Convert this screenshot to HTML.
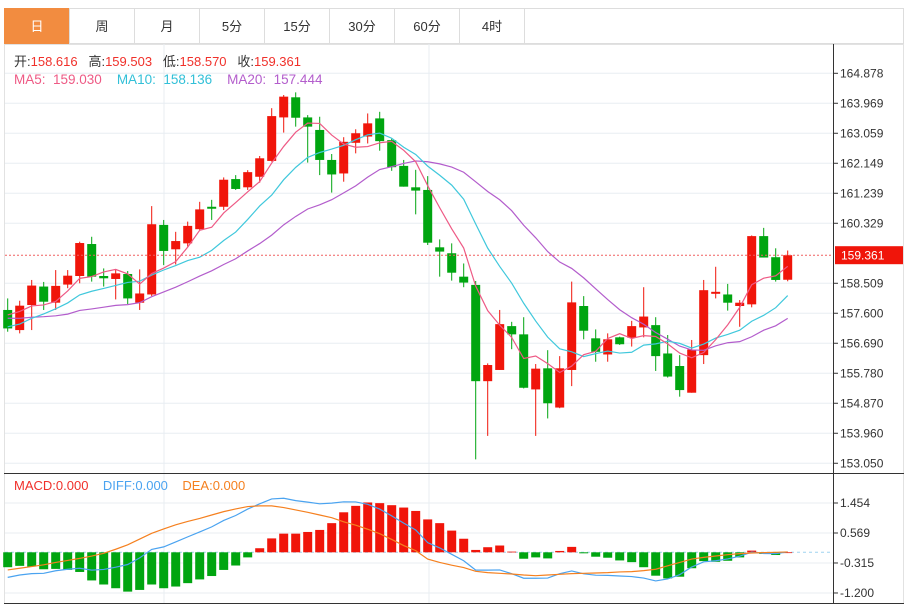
<!DOCTYPE html>
<html><head><meta charset="utf-8"><style>
body{margin:0;background:#fff;font-family:"Liberation Sans","Noto Sans CJK SC",sans-serif;}
#wrap{position:relative;width:911px;height:605px;overflow:hidden;}
.tab{position:absolute;top:8px;height:36px;line-height:36px;text-align:center;font-size:13px;color:#333;border:1px solid #ddd;box-sizing:border-box;background:#fff;}
.tab.on{background:#f28c40;color:#fff;border-color:#f28c40;}
svg{position:absolute;left:0;top:0;}
</style></head><body>
<div id="wrap">
<div class="tab on" style="left:4px;width:66px">日</div>
<div class="tab" style="left:69px;width:66px">周</div>
<div class="tab" style="left:134px;width:66px">月</div>
<div class="tab" style="left:199px;width:66px">5分</div>
<div class="tab" style="left:264px;width:66px">15分</div>
<div class="tab" style="left:329px;width:66px">30分</div>
<div class="tab" style="left:394px;width:66px">60分</div>
<div class="tab" style="left:459px;width:66px">4时</div>
<div class="tab" style="left:524px;width:380px"></div>
<svg id="chart" width="911" height="605"></svg>
</div>
<script>
const opens=[157.70,157.09,157.85,158.41,157.92,158.47,158.73,159.70,158.73,158.64,158.79,157.92,158.17,160.28,159.54,159.72,160.15,160.83,160.83,161.67,161.42,161.74,162.22,163.54,164.15,163.54,163.16,162.25,161.84,162.77,162.96,163.51,162.85,162.07,161.42,161.34,159.60,159.42,158.71,158.46,155.54,155.88,157.21,156.96,155.29,155.93,154.74,155.88,157.82,156.84,156.35,156.87,156.86,157.17,157.24,156.38,156.00,155.19,156.33,158.19,158.17,157.82,157.87,159.94,159.30,158.616];
const highs=[158.05,157.98,158.61,158.55,158.91,158.91,159.77,159.92,158.96,158.93,158.88,158.93,160.85,160.43,160.07,160.38,160.98,161.04,161.72,161.79,161.94,162.37,163.82,164.22,164.30,163.61,163.56,162.43,162.94,163.18,163.66,163.71,162.91,162.25,161.95,161.76,159.84,159.72,159.11,158.58,156.08,157.70,157.34,157.48,156.06,156.48,156.30,158.56,158.12,157.11,156.99,156.89,157.37,158.39,157.48,156.94,156.33,156.79,158.61,159.01,158.49,158.00,159.96,160.19,159.57,159.503];
const lows=[157.04,156.99,157.09,157.70,157.70,158.36,158.51,158.56,158.41,158.02,157.88,157.70,158.12,159.06,159.08,159.62,160.13,160.43,160.73,161.34,161.34,161.56,162.20,163.08,163.26,162.17,161.79,161.26,161.59,162.45,162.75,162.53,161.92,161.44,160.60,159.67,158.71,158.59,158.39,153.17,153.88,155.88,156.51,155.32,153.88,154.41,154.72,155.39,156.81,156.13,156.13,156.64,156.59,156.87,155.85,155.65,155.07,155.19,156.06,158.05,157.68,157.19,157.78,159.29,158.56,158.570];
const closes=[157.14,157.83,158.44,157.95,158.43,158.74,159.73,158.71,158.66,158.81,158.05,158.20,160.30,159.49,159.79,160.25,160.75,160.77,161.65,161.37,161.88,162.30,163.58,164.17,163.53,163.26,162.25,161.81,162.80,163.06,163.36,162.82,162.03,161.44,161.32,159.74,159.47,158.83,158.53,155.54,156.03,157.27,156.96,155.34,155.92,154.87,155.93,157.93,157.07,156.43,156.81,156.66,157.21,157.50,156.30,155.68,155.27,156.50,158.30,158.25,157.92,157.92,159.94,159.29,158.61,159.361];
const priorCloses=[157.9,157.8,157.6,157.9,157.7,157.5,157.8,157.6,157.7,157.6,157.0,156.7,156.6,156.9,156.95,157.3,157.6,157.8,157.9];
const macdHist=[-0.44,-0.40,-0.42,-0.50,-0.49,-0.52,-0.58,-0.83,-0.95,-1.06,-1.16,-1.11,-0.95,-1.06,-1.01,-0.91,-0.80,-0.70,-0.52,-0.39,-0.15,0.12,0.41,0.55,0.55,0.60,0.66,0.86,1.18,1.37,1.47,1.45,1.39,1.32,1.22,0.97,0.86,0.64,0.40,0.07,0.15,0.20,0.02,-0.19,-0.15,-0.18,0.04,0.16,-0.03,-0.13,-0.16,-0.24,-0.29,-0.44,-0.69,-0.77,-0.72,-0.47,-0.26,-0.28,-0.25,-0.15,0.05,-0.05,-0.08,0];
const deaVals=[-0.52,-0.47,-0.42,-0.37,-0.30,-0.24,-0.18,-0.11,-0.03,0.09,0.22,0.39,0.56,0.69,0.81,0.91,1.00,1.10,1.20,1.28,1.35,1.37,1.37,1.32,1.25,1.18,1.10,1.02,0.90,0.80,0.68,0.55,0.38,0.20,0.05,-0.20,-0.30,-0.38,-0.45,-0.56,-0.60,-0.62,-0.64,-0.67,-0.69,-0.67,-0.65,-0.63,-0.62,-0.61,-0.60,-0.58,-0.57,-0.54,-0.50,-0.40,-0.30,-0.20,-0.15,-0.11,-0.07,-0.04,-0.02,-0.01,0.0,0.01];
const priceTicks=[164.878,163.969,163.059,162.149,161.239,160.329,159.361,158.509,157.600,156.690,155.780,154.870,153.960,153.050];
const macdTicks=[1.454,0.569,-0.315,-1.200];
const lastPrice=159.361;

const NS='http://www.w3.org/2000/svg';
const svg=document.getElementById('chart');
const RED='#f0150a',GREEN='#00a510';
function yP(p){return 73.3+(164.878-p)*32.97;}
function yM(v){return 552.3-v*33.9;}
function xC(i){return 7.7+i*12;}
function el(tag,attrs,parent){const e=document.createElementNS(NS,tag);for(const k in attrs)e.setAttribute(k,attrs[k]);(parent||svg).appendChild(e);return e;}
function txt(s,x,y,color,size,name){const t=el('text',{x:x,y:y,fill:color,'font-size':size||12,'font-family':'Liberation Sans, Noto Sans CJK SC, sans-serif'});t.textContent=s;return t;}

el('rect',{x:4.5,y:44.5,width:899,height:559,fill:'none',stroke:'#e2e2e2'});
priceTicks.forEach(p=>{if(p===lastPrice)return;const l=el('line',{x1:5,x2:833,y1:yP(p),y2:yP(p),stroke:'#e8edf2'});});
macdTicks.forEach(v=>{const l=el('line',{x1:5,x2:833,y1:yM(v),y2:yM(v),stroke:'#e8edf2'});});
[164,429].forEach(x=>{el('line',{x1:x,x2:x,y1:44,y2:603,stroke:'#e8edf2'});});
el('line',{x1:833.5,x2:833.5,y1:44,y2:604,stroke:'#333'});
el('line',{x1:4,x2:904,y1:473.5,y2:473.5,stroke:'#333'});
el('line',{x1:4,x2:904,y1:603.5,y2:603.5,stroke:'#333'});
priceTicks.forEach(p=>{if(p===lastPrice)return;el('line',{x1:833,x2:838,y1:yP(p),y2:yP(p),stroke:'#333'});txt(p.toFixed(3),840,yP(p)+4,'#333',12,'price-tick-label');});
macdTicks.forEach(v=>{el('line',{x1:833,x2:838,y1:yM(v),y2:yM(v),stroke:'#333'});txt(v.toFixed(3),840,yM(v)+4,'#333',12,'macd-tick-label');});

function ma(n){const all=priorCloses.concat(closes),off=priorCloses.length,out=[];for(let i=0;i<closes.length;i++){let s=0,c=0;for(let j=i+off-n+1;j<=i+off;j++){if(j>=0){s+=all[j];c++;}}out.push(s/c);}return out;}
function poly(vals,fy,color,name){const p=el('polyline',{points:vals.map((v,i)=>xC(i)+','+fy(v)).join(' '),fill:'none',stroke:color,'stroke-width':1.2});}

closes.forEach((c,i)=>{const o=opens[i],up=c>=o,col=up?RED:GREEN,x=xC(i);
 const g=el('g',{});
 el('line',{x1:x,x2:x,y1:yP(highs[i]),y2:yP(lows[i]),stroke:col,'stroke-width':1},g);
 const t=yP(Math.max(o,c)),b=yP(Math.min(o,c));
 el('rect',{x:x-4.5,y:t,width:9,height:Math.max(1,b-t),fill:col},g);});
poly(ma(20),yP,'#b35dcc','ma20-line');
poly(ma(10),yP,'#40c8dc','ma10-line');
poly(ma(5),yP,'#ee5a85','ma5-line');
const lp=el('line',{x1:5,x2:833,y1:yP(lastPrice),y2:yP(lastPrice),stroke:'#f06060','stroke-dasharray':'2,2'});

el('rect',{x:835,y:yP(lastPrice)-9,width:68,height:18,fill:RED});
txt(lastPrice.toFixed(3),841,yP(lastPrice)+4.5,'#fff',12,'last-price-label');

el('line',{x1:5,x2:833,y1:yM(0),y2:yM(0),stroke:'#9fd3f0','stroke-dasharray':'3,3'});
macdHist.forEach((v,i)=>{const r=el('rect',{x:xC(i)-4.5,y:Math.min(yM(0),yM(v)),width:9,height:Math.max(0.8,Math.abs(yM(v)-yM(0))),fill:v>=0?RED:GREEN});});
const diffVals=deaVals.map((d,i)=>d+macdHist[i]/2);
poly(diffVals,yM,'#4aa3f0','diff-line');
poly(deaVals,yM,'#f5801f','dea-line');

function seg(parts,y,name,size){const t=el('text',{x:14,y:y,'font-size':size,'font-family':'Liberation Sans, Noto Sans CJK SC, sans-serif'});t.style.whiteSpace='pre';parts.forEach(p=>{const s=el('tspan',{fill:p[1]},t);s.textContent=p[0];});}
seg([['开:','#333'],['158.616   ','#f0302a'],['高:','#333'],['159.503   ','#f0302a'],['低:','#333'],['158.570   ','#f0302a'],['收:','#333'],['159.361','#f0302a']],66,'ohlc-legend',13);
seg([['MA5:  159.030    ','#ee5a85'],['MA10:  158.136    ','#32c0d8'],['MA20:  157.444','#b35dcc']],84,'ma-legend',13.5);
seg([['MACD:0.000    ','#f0302a'],['DIFF:0.000    ','#4aa3f0'],['DEA:0.000','#f5801f']],490,'macd-legend',13);
</script>
</body></html>
